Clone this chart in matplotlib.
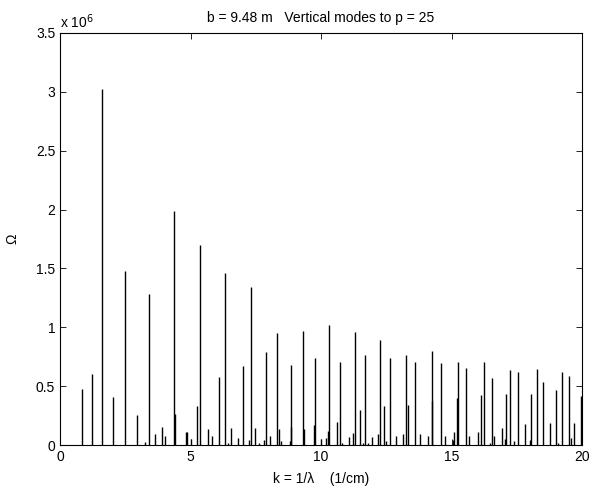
import matplotlib
matplotlib.use("Agg")
import matplotlib.pyplot as plt
from matplotlib.ticker import FuncFormatter

plt.rcParams['font.family'] = ['Liberation Sans', 'DejaVu Sans']

# spike positions k (1/cm) and heights Omega
k_vals = [0.83, 1.23, 1.60, 2.03, 2.48, 2.94, 3.26, 3.40, 3.63, 3.90, 4.02, 4.37, 4.41,
          4.83, 4.86, 5.00, 5.24, 5.36, 5.66, 5.84, 6.10, 6.33, 6.43, 6.55, 6.83, 7.01,
          7.24, 7.31, 7.46, 7.63, 7.81, 7.90, 8.03, 8.31, 8.38, 8.45, 8.80, 8.84, 8.86,
          9.31, 9.33, 9.74, 9.78, 10.01, 10.18, 10.25, 10.29, 10.61, 10.72, 10.79,
          11.07, 11.21, 11.29, 11.50, 11.62, 11.70, 11.78, 11.95, 12.17, 12.27, 12.41,
          12.50, 12.63, 12.89, 13.13, 13.27, 13.32, 13.61, 13.81, 14.10, 14.24, 14.27,
          14.59, 14.74, 15.06, 15.11, 15.20, 15.25, 15.56, 15.66, 16.02, 16.13, 16.25,
          16.48, 16.54, 16.61, 16.93, 17.03, 17.08, 17.25, 17.39, 17.53, 17.83, 17.99,
          18.05, 18.27, 18.51, 18.77, 19.01, 19.09, 19.25, 19.50, 19.59, 19.69, 19.97]
omega = [0.476e6, 0.603e6, 3.02e6, 0.408e6, 1.48e6, 0.255e6, 0.028e6, 1.28e6, 0.096e6,
         0.156e6, 0.074e6, 1.99e6, 0.26e6, 0.108e6, 0.108e6, 0.048e6, 0.334e6, 1.70e6,
         0.136e6, 0.076e6, 0.578e6, 1.46e6, 0.014e6, 0.144e6, 0.060e6, 0.671e6, 0.045e6,
         1.34e6, 0.144e6, 0.020e6, 0.040e6, 0.79e6, 0.076e6, 0.949e6, 0.136e6, 0.034e6,
         0.030e6, 0.683e6, 0.150e6, 0.966e6, 0.133e6, 0.170e6, 0.739e6, 0.048e6, 0.060e6,
         0.120e6, 1.02e6, 0.195e6, 0.708e6, 0.020e6, 0.070e6, 0.100e6, 0.957e6, 0.300e6,
         0.020e6, 0.767e6, 0.020e6, 0.070e6, 0.096e6, 0.892e6, 0.330e6, 0.030e6, 0.739e6,
         0.076e6, 0.090e6, 0.767e6, 0.340e6, 0.708e6, 0.096e6, 0.080e6, 0.370e6, 0.800e6,
         0.700e6, 0.080e6, 0.040e6, 0.110e6, 0.400e6, 0.708e6, 0.654e6, 0.080e6, 0.110e6,
         0.428e6, 0.702e6, 0.020e6, 0.569e6, 0.076e6, 0.147e6, 0.050e6, 0.436e6, 0.637e6,
         0.030e6, 0.623e6, 0.176e6, 0.040e6, 0.430e6, 0.646e6, 0.532e6, 0.184e6, 0.470e6,
         0.020e6, 0.623e6, 0.586e6, 0.060e6, 0.184e6, 0.420e6]

xticks = [0, 5, 10, 15, 20]
yticks = [0, 0.5e6, 1e6, 1.5e6, 2e6, 2.5e6, 3e6, 3.5e6]

fig = plt.figure(figsize=(5.92, 4.92), dpi=100)
ax = fig.add_axes([0.1014, 0.0955, 0.8818, 0.8375])
ax.vlines(k_vals, 0, omega, colors='k', linewidth=1.0)
ax.set_xlim(0, 20)
ax.set_ylim(0, 3.5e6)
ax.set_xticks(xticks)
ax.set_yticks(yticks)
ax.yaxis.set_major_formatter(FuncFormatter(lambda v, p: f"{v/1e6:g}"))
ax.tick_params(direction='in', top=True, right=True, length=4, width=0.6, labelsize=10)
for s in ax.spines.values():
    s.set_linewidth(0.8)
ax.text(0.0, 1.005, r"x 10$^6$", transform=ax.transAxes, fontsize=10, ha='left', va='bottom')
ax.set_title("b = 9.48 m   Vertical modes to p = 25", fontsize=10, pad=8)
ax.set_ylabel("Ω", fontsize=10, labelpad=12)
ax.set_xlabel("k = 1/λ    (1/cm)", fontsize=10, labelpad=6)
fig.savefig("out.png", dpi=100)
